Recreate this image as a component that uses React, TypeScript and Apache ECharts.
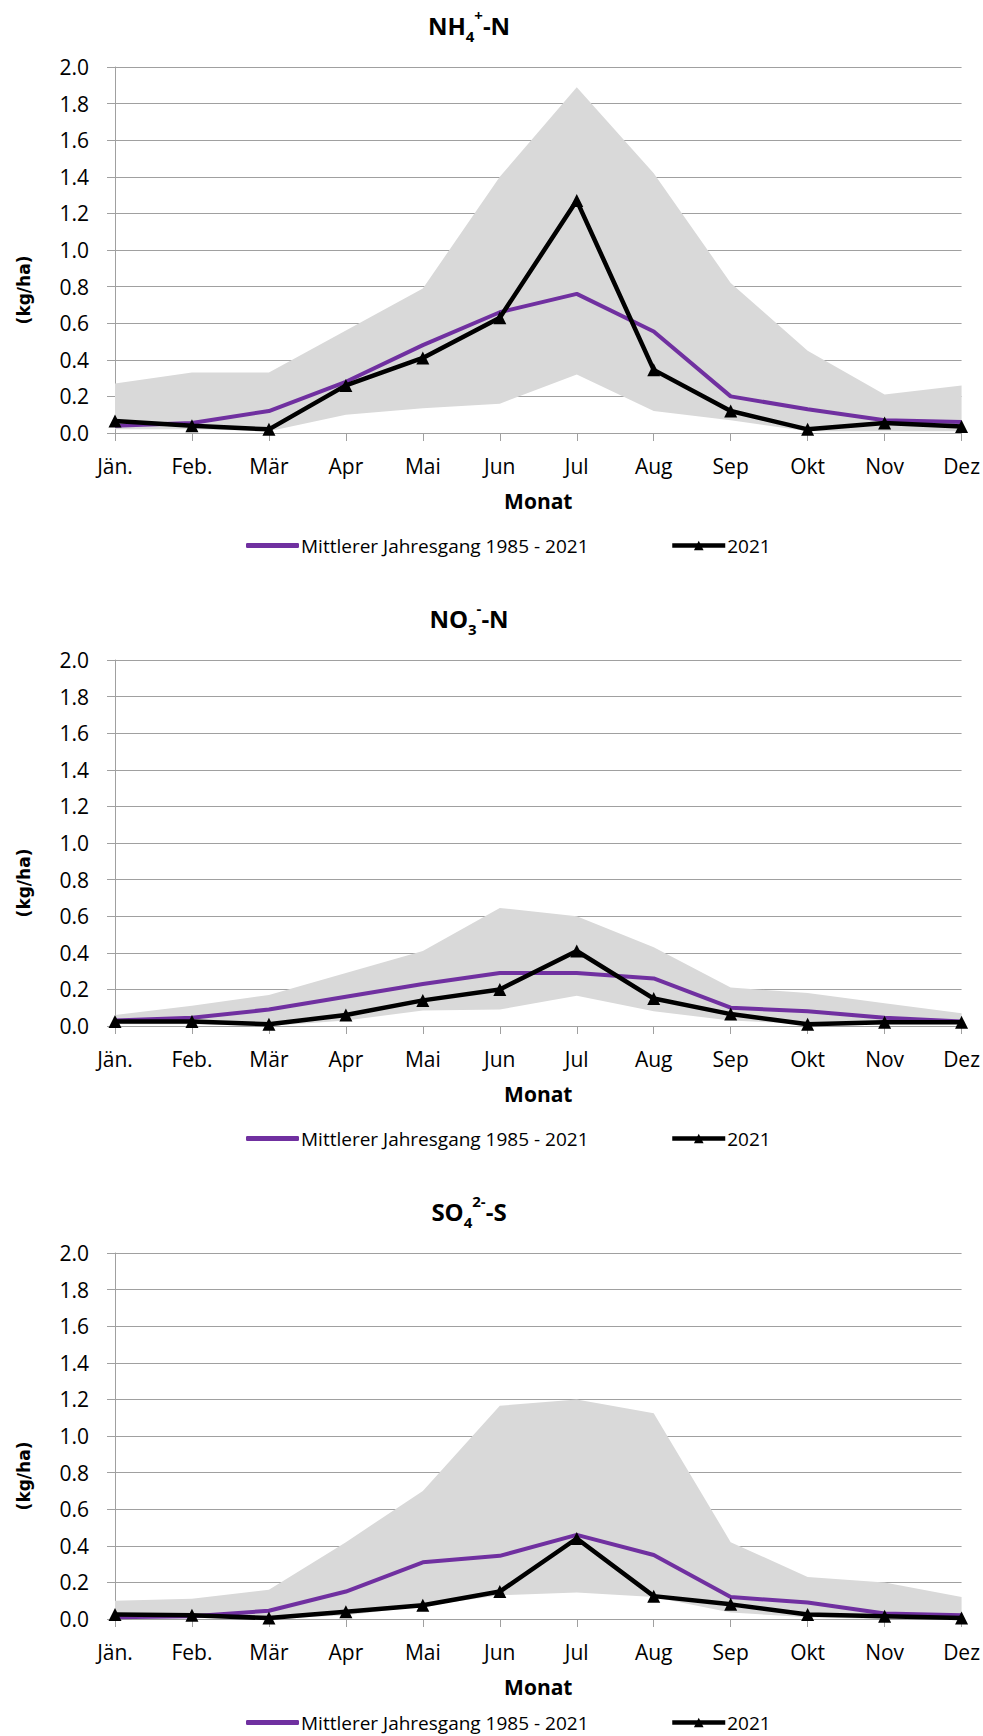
import React, { useEffect, useRef } from 'react';
import * as echarts from 'echarts';

const MONTHS = ['Jän.', 'Feb.', 'Mär', 'Apr', 'Mai', 'Jun', 'Jul', 'Aug', 'Sep', 'Okt', 'Nov', 'Dez'];
const Y_MIN = 0;
const Y_MAX = 2;
const Y_STEP = 0.2;
const MEAN_NAME = 'Mittlerer Jahresgang 1985 - 2021';
const YEAR_NAME = '2021';
const Y_TITLE = '(kg/ha)';
const X_TITLE = 'Monat';

// NH4+-N
const NH4_MAX = [0.27, 0.33, 0.33, 0.56, 0.79, 1.4, 1.89, 1.42, 0.82, 0.45, 0.21, 0.26];
const NH4_MIN = [0.02, 0.02, 0.01, 0.1, 0.135, 0.16, 0.32, 0.12, 0.07, 0.01, 0.01, 0.01];
const NH4_MEAN = [0.04, 0.055, 0.12, 0.28, 0.48, 0.66, 0.76, 0.555, 0.2, 0.13, 0.07, 0.06];
const NH4_2021 = [0.065, 0.04, 0.02, 0.26, 0.41, 0.63, 1.27, 0.345, 0.12, 0.02, 0.055, 0.035];

// NO3--N
const NO3_MAX = [0.06, 0.11, 0.17, 0.29, 0.41, 0.645, 0.6, 0.43, 0.21, 0.18, 0.125, 0.07];
const NO3_MIN = [0.01, 0.01, 0.0, 0.03, 0.085, 0.09, 0.165, 0.08, 0.03, 0.01, 0.01, 0.01];
const NO3_MEAN = [0.03, 0.045, 0.09, 0.16, 0.23, 0.29, 0.29, 0.26, 0.1, 0.08, 0.045, 0.025];
const NO3_2021 = [0.025, 0.025, 0.01, 0.06, 0.14, 0.2, 0.41, 0.15, 0.065, 0.01, 0.02, 0.02];

// SO4 2--S
const SO4_MAX = [0.1, 0.11, 0.16, 0.42, 0.7, 1.165, 1.2, 1.125, 0.42, 0.23, 0.2, 0.12];
const SO4_MIN = [0.01, 0.01, 0.0, 0.02, 0.07, 0.13, 0.145, 0.12, 0.035, 0.01, 0.0, 0.0];
const SO4_MEAN = [0.01, 0.015, 0.045, 0.15, 0.31, 0.345, 0.46, 0.35, 0.12, 0.09, 0.03, 0.02];
const SO4_2021 = [0.025, 0.02, 0.005, 0.04, 0.075, 0.15, 0.44, 0.125, 0.08, 0.025, 0.015, 0.005];

const TITLES = ['{b|NH}{sub|4}{sup|+}{b|-N}', '{b|NO}{sub|3}{sup|-}{b|-N}', '{b|SO}{sub|4}{sup|2-}{b|-S}'];
const MAXES = [NH4_MAX, NO3_MAX, SO4_MAX];
const MINS = [NH4_MIN, NO3_MIN, SO4_MIN];
const MEANS = [NH4_MEAN, NO3_MEAN, SO4_MEAN];
const YEARS = [NH4_2021, NO3_2021, SO4_2021];

const FONT = '"Open Sans", "Noto Sans", sans-serif';
const GRID_TOPS = [67, 660, 1253];
const GRID_H = 366;
const GRID_LEFT = 115;
const GRID_RIGHT = 20;
const GRAY = '#a0a0a0';
const PURPLE = '#7030a0';

export default function App() {
  const ref = useRef<HTMLDivElement>(null);
  useEffect(() => {
    if (!ref.current) return;
    const chart = echarts.init(ref.current, undefined, { renderer: 'svg' });
    const grid: any[] = [];
    const xAxis: any[] = [];
    const yAxis: any[] = [];
    const series: any[] = [];
    const legend: any[] = [];
    const graphic: any[] = [];

    for (let i = 0; i < 3; i++) {
      const top = GRID_TOPS[i];
      grid.push({ left: GRID_LEFT, right: GRID_RIGHT, top, height: GRID_H, containLabel: false });
      xAxis.push({
        type: 'category',
        gridIndex: i,
        data: MONTHS,
        boundaryGap: false,
        name: X_TITLE,
        nameLocation: 'middle',
        nameGap: 57,
        nameTextStyle: { fontFamily: FONT, fontSize: 21, fontWeight: 'bold', color: '#000' },
        axisLine: { lineStyle: { color: GRAY, width: 1 } },
        axisTick: { show: true, length: 8, lineStyle: { color: GRAY } },
        axisLabel: { fontFamily: FONT, fontSize: 21, color: '#000', margin: 22, interval: 0 },
        splitLine: { show: false },
      });
      yAxis.push({
        type: 'value',
        gridIndex: i,
        min: Y_MIN,
        max: Y_MAX,
        interval: Y_STEP,
        axisLine: { show: true, lineStyle: { color: GRAY, width: 1 } },
        axisTick: { show: true, length: 8, lineStyle: { color: GRAY } },
        axisLabel: {
          fontFamily: FONT,
          fontSize: 21,
          color: '#000',
          margin: 26,
          formatter: (v: number) => v.toFixed(1),
        },
        splitLine: { show: true, lineStyle: { color: GRAY, width: 1 } },
      });
      const mins = MINS[i];
      const diff = MAXES[i].map((v, j) => +(v - mins[j]).toFixed(4));
      series.push({
        type: 'line',
        xAxisIndex: i,
        yAxisIndex: i,
        stack: 'band' + i,
        data: mins,
        symbol: 'none',
        silent: true,
        lineStyle: { width: 0, opacity: 0 },
        z: 1,
      });
      series.push({
        type: 'line',
        xAxisIndex: i,
        yAxisIndex: i,
        stack: 'band' + i,
        data: diff,
        symbol: 'none',
        silent: true,
        lineStyle: { width: 0, opacity: 0 },
        areaStyle: { color: '#d9d9d9', opacity: 1 },
        z: 1,
      });
      series.push({
        name: MEAN_NAME,
        type: 'line',
        xAxisIndex: i,
        yAxisIndex: i,
        data: MEANS[i],
        symbol: 'none',
        lineStyle: { color: PURPLE, width: 4 },
        itemStyle: { color: PURPLE },
        z: 3,
      });
      series.push({
        name: YEAR_NAME,
        type: 'line',
        xAxisIndex: i,
        yAxisIndex: i,
        data: YEARS[i],
        symbol: 'triangle',
        symbolSize: 13,
        lineStyle: { color: '#000', width: 4.5 },
        itemStyle: { color: '#000' },
        z: 4,
      });
      const legTop = Math.min(top + GRID_H + 98, 1708);
      legend.push({
        data: [{ name: MEAN_NAME, icon: 'roundRect' }],
        left: 241,
        top: legTop,
        itemWidth: 53,
        itemHeight: 5,
        itemGap: 0,
        selectedMode: false,
        itemStyle: { color: PURPLE, borderRadius: 2 },
        textStyle: { fontFamily: FONT, fontSize: 19, color: '#000', padding: [0, 0, 0, -3] },
      });
      legend.push({
        data: [YEAR_NAME],
        left: 665,
        top: legTop,
        itemWidth: 53,
        itemHeight: 12,
        itemGap: 0,
        selectedMode: false,
        lineStyle: { width: 4.5, color: '#000' },
        itemStyle: { color: '#000' },
        textStyle: { fontFamily: FONT, fontSize: 19, color: '#000', padding: [0, 0, 0, -3] },
      });
      graphic.push({
        type: 'text',
        x: 469,
        y: top - 42,
        style: {
          text: TITLES[i],
          align: 'center',
          verticalAlign: 'middle',
          rich: {
            b: { fontFamily: FONT, fontSize: 24, fontWeight: 'bold', fill: '#000', lineHeight: 36 },
            sub: { fontFamily: FONT, fontSize: 15, fontWeight: 'bold', fill: '#000', verticalAlign: 'bottom' },
            sup: { fontFamily: FONT, fontSize: 15, fontWeight: 'bold', fill: '#000', verticalAlign: 'top' },
          },
        },
      });
      graphic.push({
        type: 'text',
        x: 24,
        y: top + GRID_H / 2 + 40,
        rotation: Math.PI / 2,
        style: {
          text: Y_TITLE,
          align: 'center',
          verticalAlign: 'middle',
          fontFamily: '"DejaVu Sans", sans-serif',
          fontSize: 17,
          fontWeight: 'bold',
          fill: '#000',
        },
      });
    }

    chart.setOption({
      animation: false,
      backgroundColor: '#ffffff',
      grid,
      xAxis,
      yAxis,
      series,
      legend,
      graphic,
    });
    return () => chart.dispose();
  }, []);
  return (
    <div
      ref={ref}
      style={{ position: 'absolute', left: 0, top: 0, width: 983, height: 1736 }}
    />
  );
}
